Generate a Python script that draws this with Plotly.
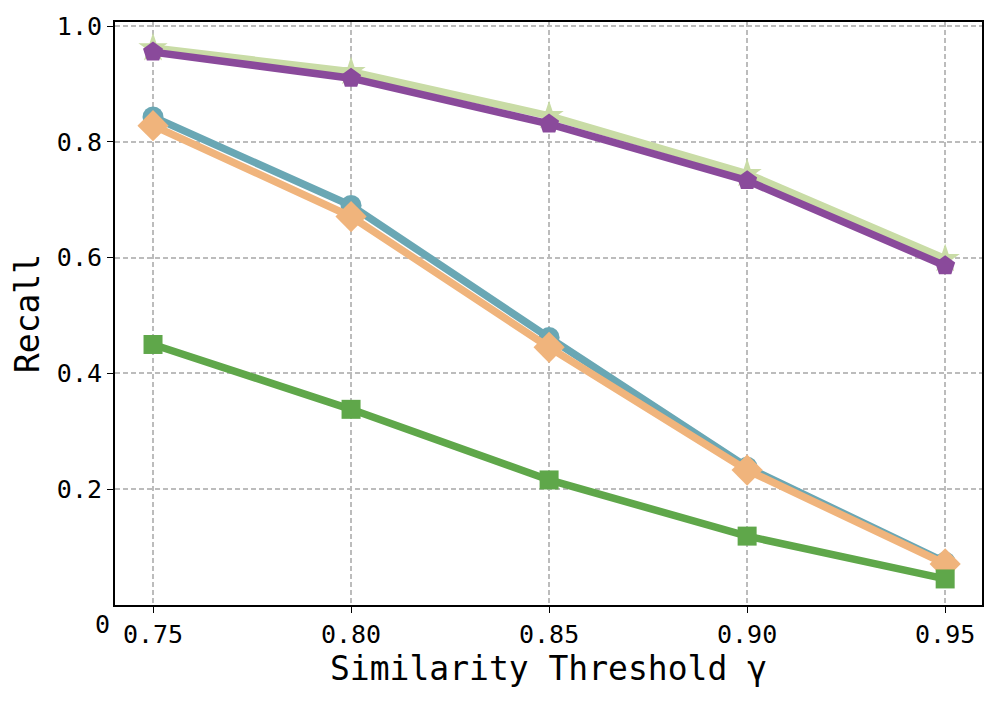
import plotly.graph_objects as go

thresholds = [0.75, 0.80, 0.85, 0.90, 0.95]
s_lightgreen = [0.962, 0.921, 0.845, 0.745, 0.598]
s_purple = [0.955, 0.910, 0.831, 0.733, 0.586]
s_teal = [0.843, 0.690, 0.462, 0.238, 0.074]
s_orange = [0.828, 0.671, 0.445, 0.233, 0.071]
s_green = [0.450, 0.338, 0.216, 0.119, 0.045]

x_ticks = [0.75, 0.80, 0.85, 0.90, 0.95]
x_labels = ["0.75", "0.80", "0.85", "0.90", "0.95"]
y_ticks = [0.2, 0.4, 0.6, 0.8, 1.0]
y_labels = ["0.2", "0.4", "0.6", "0.8", "1.0"]

FONT = "DejaVu Sans Mono"

series = [
    (s_lightgreen, "#c9dca6", "star", 22),
    (s_purple, "#8a4a9b", "pentagon", 21),
    (s_teal, "#6aa7b4", "circle", 21),
    (s_orange, "#f0b47c", "diamond", 24),
    (s_green, "#5fa74a", "square", 19),
]

fig = go.Figure()
for vals, color, sym, size in series:
    fig.add_trace(go.Scatter(
        x=thresholds, y=vals, mode="lines+markers",
        line=dict(color=color, width=7.5),
        marker=dict(symbol=sym, size=size, color=color, line=dict(width=0)),
        showlegend=False,
    ))

fig.update_layout(
    width=997, height=702,
    margin=dict(l=107, r=23, t=14, b=105),
    paper_bgcolor="white", plot_bgcolor="white",
    font=dict(family=FONT, color="black"),
)
fig.update_xaxes(
    range=[0.7404, 0.9593], tickvals=x_ticks, ticktext=x_labels,
    tickfont=dict(size=25, family=FONT), ticks="outside", ticklen=6, tickcolor="black",
    showline=True, linecolor="black", linewidth=2, mirror=True,
    showgrid=True, gridcolor="#bcbcbc", griddash="5px,3px", gridwidth=1.5,
    zeroline=False, automargin=False,
    title=dict(text="Similarity Threshold γ", font=dict(size=33, family=FONT), standoff=6),
)
fig.update_yaxes(
    range=[0.0, 1.007], tickvals=y_ticks, ticktext=y_labels,
    tickfont=dict(size=25, family=FONT), ticks="outside", ticklen=6, tickcolor="black",
    showline=True, linecolor="black", linewidth=2, mirror=True,
    showgrid=True, gridcolor="#bcbcbc", griddash="5px,3px", gridwidth=1.5,
    zeroline=False, automargin=False,
    title=dict(text="Recall", font=dict(size=33, family=FONT), standoff=10),
)
fig.add_annotation(
    x=0, y=0, xref="x domain", yref="y domain", xanchor="right", yanchor="top",
    xshift=-3, yshift=-3, text="0", showarrow=False,
    font=dict(size=25, family=FONT, color="black"),
)

fig.write_html("out.html")
